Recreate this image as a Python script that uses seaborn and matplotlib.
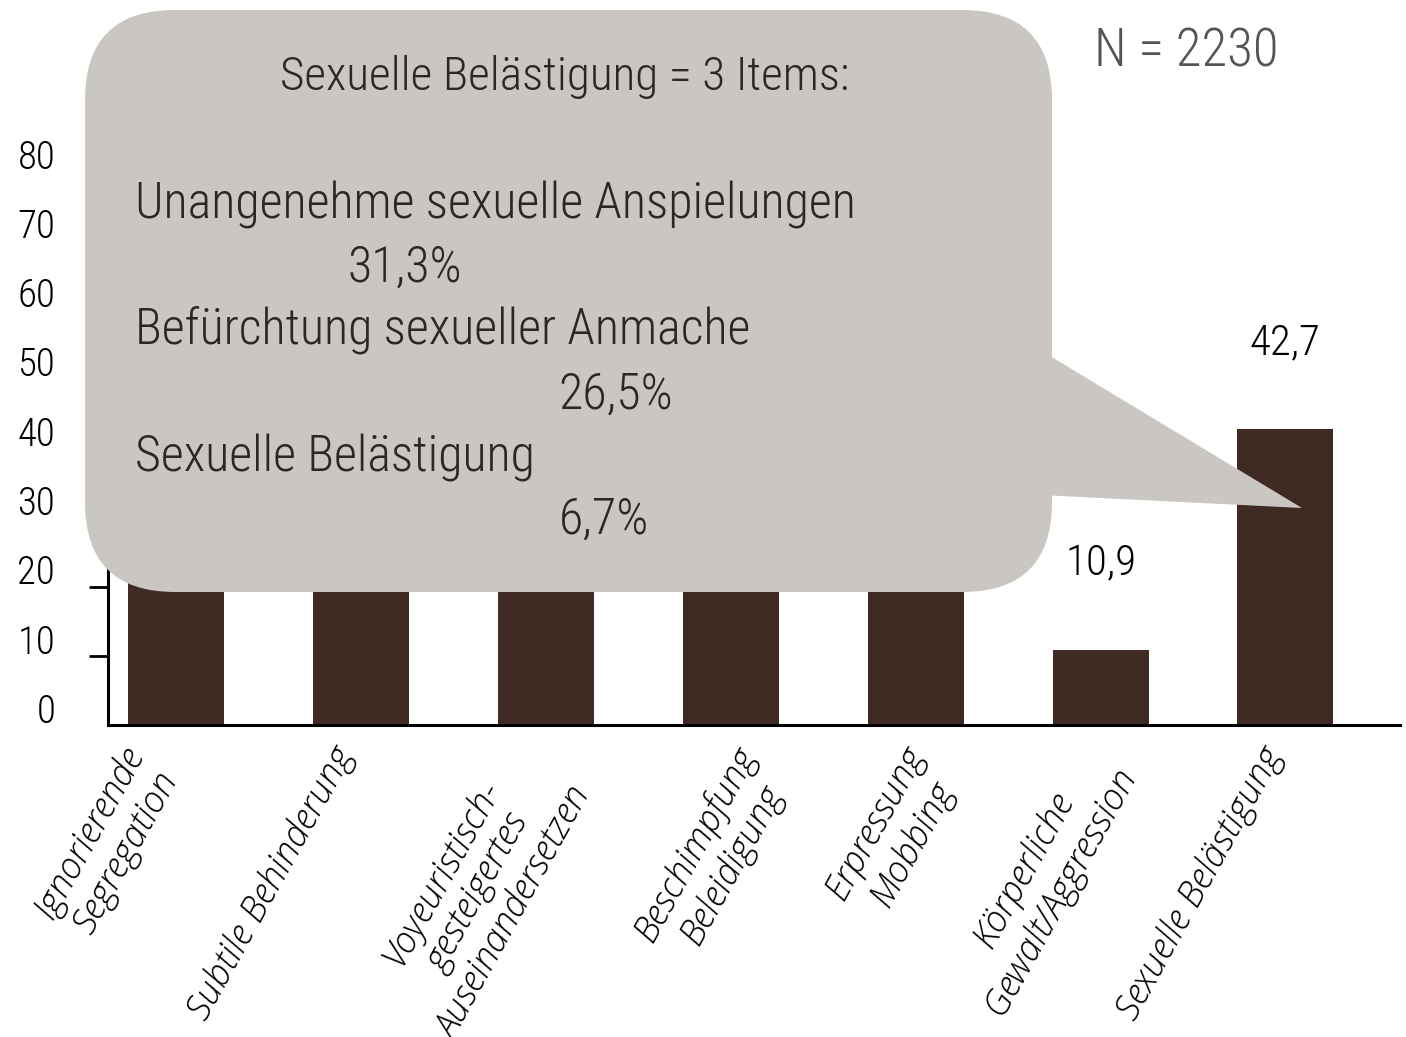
import matplotlib
matplotlib.use("Agg")
import matplotlib.pyplot as plt
import matplotlib.transforms as mtransforms
from matplotlib.patches import FancyBboxPatch, Polygon
import seaborn as sns

# categories and percentages (first five bars are hidden behind the bubble, values estimated)
categories = [
    "Ignorierende\nSegregation",
    "Subtile Behinderung",
    "Voyeuristisch-\ngesteigertes\nAuseinandersetzen",
    "Beschimpfung\nBeleidigung",
    "Erpressung\nMobbing",
    "Körperliche\nGewalt/Aggression",
    "Sexuelle Belästigung",
]
values = [43.5, 36.2, 29.8, 33.4, 24.1, 10.9, 42.7]
# only the labels that are not covered by the bubble
value_labels = [None, None, None, None, None, "10,9", "42,7"]
yticks = [0, 10, 20, 30, 40, 50, 60, 70, 80]

# text in the speech bubble
bubble_title = "Sexuelle Belästigung = 3 Items:"
item_names = ["Unangenehme sexuelle Anspielungen", "Befürchtung sexueller Anmache", "Sexuelle Belästigung"]
item_values = ["31,3%", "26,5%", "6,7%"]
n_text = "N = 2230"

BAR = "#3f2b24"
BUBBLE = "#cac7c2"
COND = ["Roboto Condensed", "Barlow Condensed", "IBM Plex Sans Condensed", "DejaVu Sans"]
COND_KW = dict(family=COND, fontweight=300, fontstretch="condensed")

W, H = 1406, 1037
fig = plt.figure(figsize=(W / 100, H / 100), dpi=100)
ax = fig.add_axes([108 / W, (H - 725) / H, (1400 - 108) / W, (725 - 171) / H])

sns.barplot(x=categories, y=values, color=BAR, saturation=1, width=0.52, ax=ax)

ax.set_xlim(-0.37, 6.62)
ax.set_ylim(0, 80)
ax.set_yticks(yticks)
ax.set_yticklabels([str(t) for t in yticks], fontsize=28, **COND_KW)
ax.tick_params(axis="y", length=14, width=2, pad=24)
ax.tick_params(axis="x", length=0)
ax.yaxis.get_major_ticks()[0].tick1line.set_visible(False)
for lab in ax.get_yticklabels():
    lab.set_transform(lab.get_transform() + mtransforms.ScaledTranslation(0, 0.17, fig.dpi_scale_trans))

ax.set_xticks(range(len(categories)))
ax.set_xticklabels(categories, rotation=61, ha="right", va="top", rotation_mode="anchor",
                   multialignment="center", fontsize=26, family="Open Sans",
                   style="italic", fontweight=300, fontstretch="normal")
# the labels in the original sit a bit irregularly to the left of their bars (pixels)
label_shift = [-57, -32, -52, 0, -15, -25, -27]
for lab, dx in zip(ax.get_xticklabels(), label_shift):
    lab.set_transform(lab.get_transform() + mtransforms.ScaledTranslation(dx / 100, -0.11, fig.dpi_scale_trans))

for s in ["top", "right"]:
    ax.spines[s].set_visible(False)
for s in ["left", "bottom"]:
    ax.spines[s].set_linewidth(2.2)
ax.set_xlabel("")
ax.set_ylabel("")

# value labels above bars
for i, v in enumerate(values):
    if value_labels[i] is None:
        continue
    ax.annotate(value_labels[i], (i, v), xytext=(0, 62), textcoords="offset points",
                ha="center", va="center", fontsize=31, **COND_KW)

# speech bubble drawn on top of the axes (pixel coordinates)
def px(x, y):
    return (x, H - y)

R = 90
bubble = FancyBboxPatch((85 + R, H - 592 + R), 1052 - 85 - 2 * R, 592 - 10 - 2 * R,
                        boxstyle="round,pad=%d" % R, transform=mtransforms.IdentityTransform(),
                        facecolor=BUBBLE, edgecolor="none", zorder=10)
fig.patches.append(bubble)
pointer = Polygon([px(1040, 350), px(1040, 495), px(1302, 508)], closed=True,
                  transform=mtransforms.IdentityTransform(), facecolor=BUBBLE,
                  edgecolor="none", zorder=10)
fig.patches.append(pointer)

def ftext(x, y, s, **kw):
    fig.text(x / W, 1 - y / H, s, zorder=11, color="#2b2724", va="center", **COND_KW, **kw)

ftext(565, 77, bubble_title, ha="center", fontsize=34)
name_y = [205, 330, 458]
val_pos = [(405, 268), (616, 395), (604, 520)]
for name, ny, val, (vx, vy) in zip(item_names, name_y, item_values, val_pos):
    ftext(135, ny, name, ha="left", fontsize=36)
    ftext(vx, vy, val, ha="center", fontsize=36)

fig.text(1186 / W, 1 - 52 / H, n_text, ha="center", va="center", fontsize=38,
         color="#58534f", **COND_KW)

fig.savefig("out.png", dpi=100)
